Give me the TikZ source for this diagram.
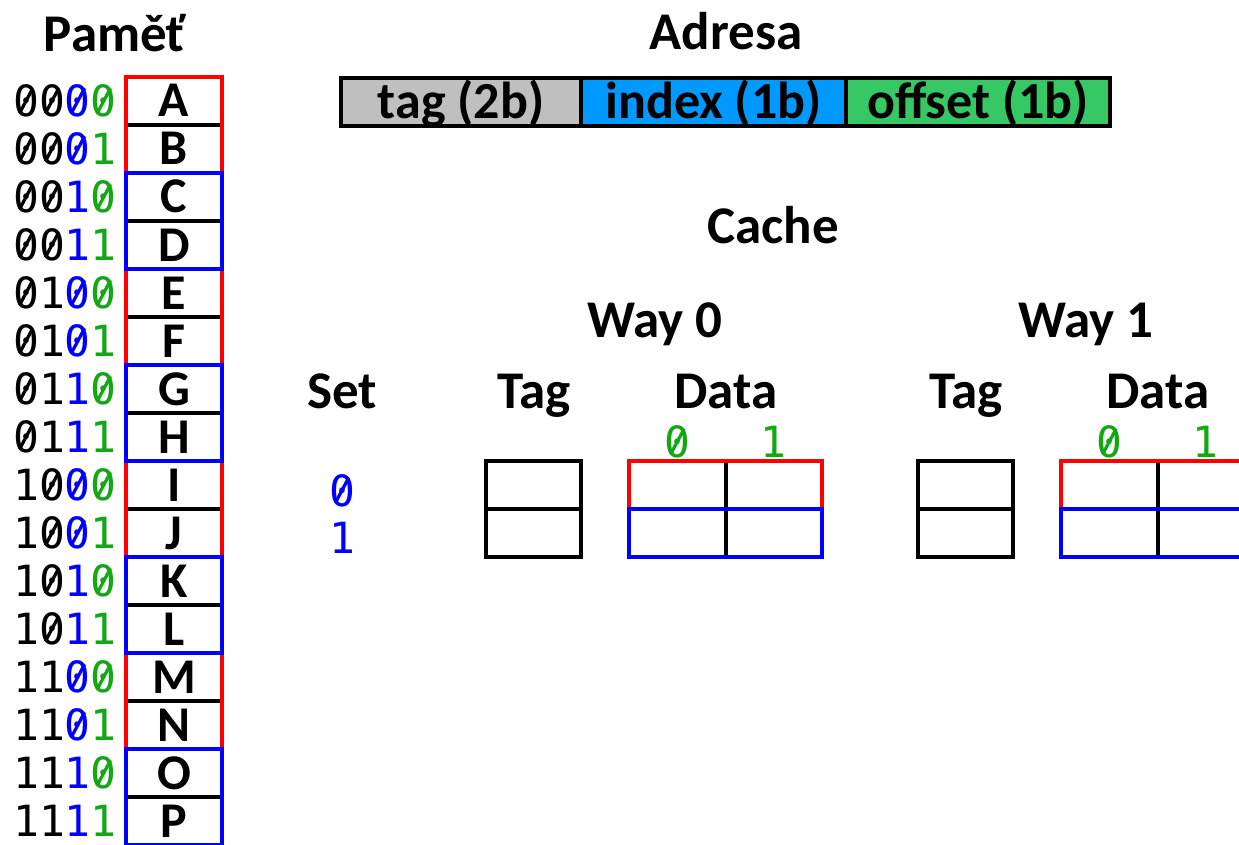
\documentclass[tikz,border=0pt]{standalone}
\usepackage{fontspec}
\usepackage{graphicx}
\setmainfont{Carlito}
\newfontfamily\monof{DejaVu Sans Mono}
\DeclareRobustCommand\slzero{\ooalign{0\cr\hidewidth\raisebox{0.056em}{\rotatebox{62}{\rule{0.66em}{0.075em}}}\hidewidth\cr}}
\definecolor{bitblue}{RGB}{0,0,255}
\definecolor{bitgreen}{RGB}{18,168,18}
\definecolor{grpred}{RGB}{255,0,0}
\definecolor{grpblue}{RGB}{0,0,255}
\definecolor{taggray}{RGB}{191,191,191}
\definecolor{idxblue}{RGB}{0,153,255}
\definecolor{offgreen}{RGB}{54,200,100}
\begin{document}
\begin{tikzpicture}[x=1pt,y=-1pt,
  title/.style={font=\bfseries\fontsize{53}{60}\selectfont, inner sep=0pt, anchor=base},
  memcell/.style={font=\bfseries\fontsize{50}{56}\selectfont, minimum width=96pt, minimum height=48pt, inner sep=0pt, text height=32pt, text depth=0pt},
  addr/.style={font=\monof\fontsize{43}{50}\selectfont, anchor=west, inner sep=0pt, text height=31pt, text depth=0pt},
  field/.style={draw=black, line width=3.5pt, font=\bfseries\fontsize{52}{60}\selectfont, minimum height=48pt, inner sep=0pt, text height=33pt, text depth=0pt},
  cellbox/.style={draw=black, line width=3.5pt, minimum width=95pt, minimum height=48pt, inner sep=0pt},
  dcell/.style={minimum width=96.5pt, minimum height=48pt, inner sep=0pt},
  sepline/.style={draw=black, line width=3.5pt},
  redgrp/.style={draw=grpred, line width=4pt},
  bluegrp/.style={draw=grpblue, line width=4pt},
  bitg/.style={font=\monof\fontsize{43}{50}\selectfont, text=bitgreen, inner sep=0pt, anchor=base},
  bitb/.style={font=\monof\fontsize{43}{50}\selectfont, text=bitblue, inner sep=0pt, anchor=base}
]
\clip (0,0) rectangle (1239,845);

% titles
\node[title] (tpam) at (115,52) {Paměť};
\node[title] (tadr) at (726,50) {Adresa};
\node[title] (tcache) at (773,243) {Cache};
\node[title] (tway0) at (655,337) {Way 0};
\node[title] (tway1) at (1086,337) {Way 1};
\node[title] (tset) at (342,408) {Set};
\node[title] (ttag0) at (534,408) {Tag};
\node[title] (tdata0) at (726,408) {Data};
\node[title] (ttag1) at (966,408) {Tag};
\node[title] (tdata1) at (1158,408) {Data};

% address bar
\node[field, fill=taggray, minimum width=240pt] (ftag) at (461,102) {tag (2b)};
\node[field, fill=idxblue, minimum width=265pt] (fidx) at (713.5,102) {index (1b)};
\node[field, fill=offgreen, minimum width=264pt] (foff) at (978,102) {offset (1b)};

% memory
\foreach \L/\hi/\ix/\of [count=\i from 0] in {A/\slzero\slzero/\slzero/\slzero,B/\slzero\slzero/\slzero/1,C/\slzero\slzero/1/\slzero,D/\slzero\slzero/1/1,E/\slzero1/\slzero/\slzero,F/\slzero1/\slzero/1,G/\slzero1/1/\slzero,H/\slzero1/1/1,I/1\slzero/\slzero/\slzero,J/1\slzero/\slzero/1,K/1\slzero/1/\slzero,L/1\slzero/1/1,M/11/\slzero/\slzero,N/11/\slzero/1,O/11/1/\slzero,P/11/1/1}{
  \node[memcell] (m\L) at (174,{101+48*\i}) {\L};
  \node[addr] (a\L) at (13,{101+48*\i}) {\hi\textcolor{bitblue}{\ix}\textcolor{bitgreen}{\of}};
}
\foreach \u in {A,C,E,G,I,K,M,O}
  \draw[sepline] (m\u.south west) -- (m\u.south east);
\foreach \u/\v in {A/B,E/F,I/J,M/N}
  \draw[redgrp] (m\u.north west) rectangle (m\v.south east);
\foreach \u/\v in {C/D,G/H,K/L,O/P}
  \draw[bluegrp] (m\u.north west) rectangle (m\v.south east);

% set numbers
\node[bitb] (s0) at (342,506) {\slzero};
\node[bitb] (s1) at (342,553) {1};

% ways
\foreach \w/\dx in {0/0,1/432}{
  \node[cellbox] (w\w t0) at ({533.5+\dx},485) {};
  \node[cellbox] (w\w t1) at ({533.5+\dx},533) {};
  \node[dcell] (w\w d00) at ({677.5+\dx},485) {};
  \node[dcell] (w\w d01) at ({774+\dx},485) {};
  \node[dcell] (w\w d10) at ({677.5+\dx},533) {};
  \node[dcell] (w\w d11) at ({774+\dx},533) {};
  \draw[sepline] (w\w d00.north east) -- (w\w d10.south east);
  \draw[redgrp] (w\w d00.south west) -- (w\w d00.north west) -- (w\w d01.north east) -- (w\w d01.south east);
  \draw[bluegrp] (w\w d10.north west) rectangle (w\w d11.south east);
  \node[bitg] (w\w c0) at ({677.5+\dx},457) {\slzero};
  \node[bitg] (w\w c1) at ({773+\dx},457) {1};
}
\end{tikzpicture}
\end{document}
